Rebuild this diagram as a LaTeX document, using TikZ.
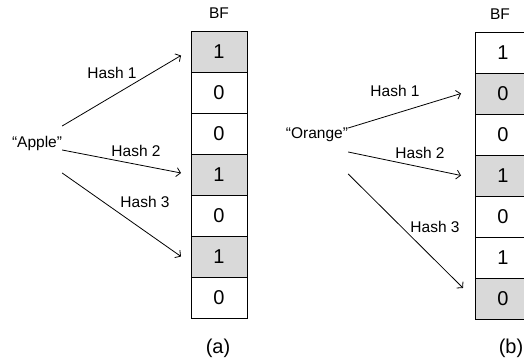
\documentclass[tikz,border=0pt]{standalone}
\usepackage{fontspec}
\setmainfont{Liberation Sans}
\usepackage{xcolor}
\usepackage{tikz}
\usetikzlibrary{positioning,calc,arrows.meta}

\definecolor{bfgray}{HTML}{D9D9D9}

\tikzset{
    cell/.style={draw, line width=0.8pt, minimum width=56pt, minimum height=41pt,
        inner sep=0pt, outer sep=0pt, font=\fontsize{20}{24}\selectfont},
    word/.style={inner sep=0pt, font=\fontsize{15.5}{18}\selectfont},
    hash/.style={line width=0.8pt, -{Straight Barb[length=4pt,width=9pt]}}
}

\begin{document}
\begin{tikzpicture}[x=1pt,y=1pt]
        \useasboundingbox (0,0) rectangle (524,363);
        \clip (0,0) rectangle (524,363);

        % (a) Apple
        \foreach \val/\shade [count=\i] in {1/bfgray,0/white,0/white,1/bfgray,0/white,1/bfgray,0/white} {
            \node [cell, fill=\shade] (a\i) at (219, {311.5-41*(\i-1)}) {\val};
        }
        \node [word, above=12pt of a1] (bfa) {BF};
        \node [font=\fontsize{20}{24}\selectfont] (capa) at (218, 15) {(a)};
        \node [word] (apple) at (37, 220) {“Apple”};

        \draw [hash] ([yshift=17pt]apple.east) -- ([xshift=-10pt,yshift=-4pt]a1.west);
        \draw [hash] ([yshift=-7pt]apple.east) -- ([xshift=-10pt,yshift=1.5pt]a4.west);
        \draw [hash] ([yshift=-30pt]apple.east) -- ([xshift=-10pt]a6.west);
        \node [word] (ha1) at (112, 290) {Hash 1};
        \node [word] (ha2) at (136, 212) {Hash 2};
        \node [word] (ha3) at (145, 161) {Hash 3};

        % (b) Orange
        \foreach \val/\shade [count=\i] in {1/white,0/bfgray,0/white,1/bfgray,0/white,1/white,0/bfgray} {
            \node [cell, fill=\shade] (b\i) at (503, {310.5-41*(\i-1)}) {\val};
        }
        \node [word] (bfb) at (500, 349) {BF};
        \node [font=\fontsize{20}{24}\selectfont] (capb) at (511, 15) {(b)};
        \node [word] (orange) at (317, 228) {“Orange”};

        \draw [hash] ([yshift=7pt]orange.east) -- ([xshift=-14pt]b2.west);
        \draw [hash] ([yshift=-17pt]orange.east) -- ([xshift=-14pt]b4.west);
        \draw [hash] ([yshift=-39pt]orange.east) -- ([xshift=-12pt,yshift=10.5pt]b7.west);
        \node [word] (hb1) at (395, 272) {Hash 1};
        \node [word] (hb2) at (420, 210) {Hash 2};
        \node [word] (hb3) at (435, 136) {Hash 3};
    \end{tikzpicture}
\end{document}
